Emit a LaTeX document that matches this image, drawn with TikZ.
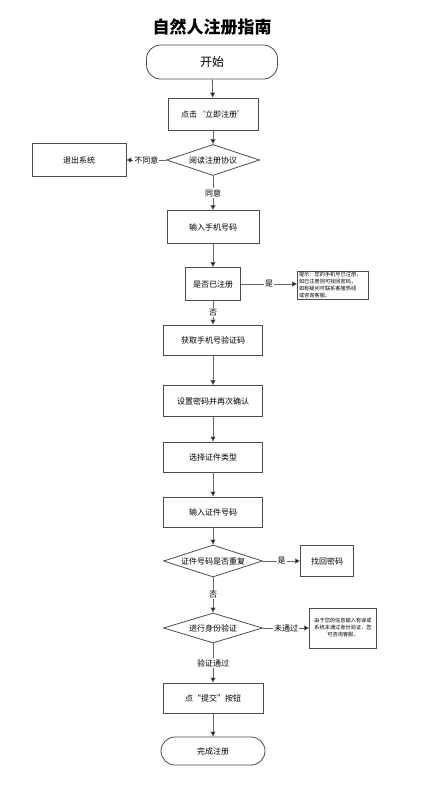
\documentclass[tikz,border=0pt]{standalone}
\usepackage{fontspec}
\setmainfont{Noto Sans CJK SC}
\usetikzlibrary{shapes.geometric,arrows.meta}
\tikzset{
  procbox/.style={draw=black!70, line width=0.8pt, rectangle, inner sep=0pt},
  termbox/.style={draw=black!70, line width=0.8pt, rectangle, rounded corners=14pt, inner sep=0pt},
  choice/.style={draw=black!70, line width=0.8pt, diamond, aspect=3.2, inner sep=0pt},
  notebox/.style={draw=black!70, line width=0.8pt, rectangle, inner sep=1pt,
    font=\fontsize{5.2}{7}\selectfont},
  lbl/.style={fill=white, inner sep=1pt},
  flow/.style={draw=black!60, line width=0.8pt, -{Triangle[length=5pt,width=5pt,fill=black]}}
}
\begin{document}
\begin{tikzpicture}[x=1pt, y=-1pt, every node/.style={font=\fontsize{8}{10}\selectfont}]
    \useasboundingbox (0,0) rectangle (422,785);

    % Title
    \node[font=\fontsize{17}{20}\selectfont\bfseries] (title) at (212,27) {自然人注册指南};

    % Main column
    \node[termbox, minimum width=131, minimum height=34, font=\fontsize{12}{14}\selectfont] (start) at (212,62) {开始};
    \node[procbox, minimum width=90, minimum height=32] (click) at (213,114) {点击‘立即注册’};
    \node[choice, minimum width=93, minimum height=31] (read) at (213,160) {阅读注册协议};
    \node[procbox, minimum width=94, minimum height=33] (quit) at (79,160) {退出系统};
    \node[procbox, minimum width=92, minimum height=33] (phone) at (213,227) {输入手机号码};
    \node[procbox, minimum width=55, minimum height=33] (reg) at (213,284) {是否已注册};
    \node[procbox, minimum width=99, minimum height=30] (code) at (213,340) {获取手机号验证码};
    \node[procbox, minimum width=99, minimum height=31] (pwd) at (213,401) {设置密码并再次确认};
    \node[procbox, minimum width=99, minimum height=30] (idtype) at (213,457) {选择证件类型};
    \node[procbox, minimum width=99, minimum height=30] (idno) at (213,512) {输入证件号码};
    \node[choice, minimum width=99, minimum height=32] (dup) at (213,561) {证件号码是否重复};
    \node[choice, minimum width=99, minimum height=30] (verify) at (213,628) {进行身份验证};
    \node[procbox, minimum width=100, minimum height=30] (submit) at (213,698) {点“提交”按钮};
    \node[termbox, minimum width=104, minimum height=28] (done) at (213,751) {完成注册};

    % Side boxes
    \node[notebox, minimum width=71, minimum height=28, text width=68, align=left] (note1) at (333,285)
      {提示：您的手机号已注册，\\如已注册则可找回密码，\\如有疑问可联系客服热线\\或咨询客服。};
    \node[procbox, minimum width=53, minimum height=31] (findpw) at (327,561) {找回密码};
    \node[notebox, minimum width=67, minimum height=40, text width=64, align=center] (note2) at (343,628)
      {由于您的信息输入有误或\\系统未通过身份验证，您\\可咨询客服。};

    % Connectors
    \draw[flow] (start) -- (click);
    \draw[flow] (click) -- (read);
    \draw[flow] (read) -- node[lbl] {不同意} (quit);
    \draw[flow] (read) -- node[lbl] {同意} (phone);
    \draw[flow] (phone) -- (reg);
    \draw[flow] (reg) -- node[lbl] {是} (note1.west |- reg);
    \draw[flow] (reg) -- node[lbl] {否} (code);
    \draw[flow] (code) -- (pwd);
    \draw[flow] (pwd) -- (idtype);
    \draw[flow] (idtype) -- (idno);
    \draw[flow] (idno) -- (dup);
    \draw[flow] (dup) -- node[lbl] {是} (findpw);
    \draw[flow] (dup) -- node[lbl] {否} (verify);
    \draw[flow] (verify) -- node[lbl] {未通过} (note2);
    \draw[flow] (verify) -- node[lbl] {验证通过} (submit);
    \draw[flow] (submit) -- (done);
\end{tikzpicture}
\end{document}
